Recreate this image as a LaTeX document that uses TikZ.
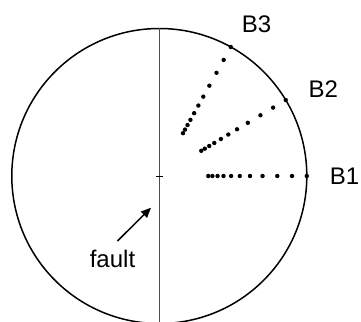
\documentclass[tikz,border=0pt]{standalone}
\usepackage{fontspec}
\setmainfont{Liberation Sans}
\usetikzlibrary{arrows.meta}
\begin{document}
\begin{tikzpicture}[x=1pt,y=-1pt,
  lbl/.style={font=\fontsize{24}{28}\selectfont, inner sep=0pt},
  pole/.style={fill=black, draw=none},
  netline/.style={line width=1.5pt},
  faultline/.style={line width=0.9pt, draw=black!70},
  pointer/.style={line width=1.5pt, -{Triangle[length=10pt,width=8.5pt]}}]
\useasboundingbox (0,0) rectangle (361,321);
\coordinate (O) at (159.3,176);
\begin{scope}
\clip (0,0) rectangle (361,321);
\draw[netline] (O) circle[radius=147.5pt];
\draw[faultline] (159.3,28.5) -- (159.3,330);
\end{scope}
\draw[line width=0.7pt] ([xshift=-3.5pt]O) -- ([xshift=3.5pt]O);
% dotted paths
\foreach \ang in {0,31,61}{
  \foreach \f in {1.0,0.90,0.80,0.70,0.615,0.546,0.487,0.435,0.395,0.36,0.332}{
    \fill[pole] (O) ++(-\ang:\f*147.5) circle[radius=2.2pt];
  }
}
\node[lbl] (B1) at (344.5,176) {B1};
\node[lbl] (B2) at (323.3,89.5) {B2};
\node[lbl] (B3) at (256.5,24) {B3};
\node[lbl, anchor=base] (fault) at (112.5,267.3) {fault};
\coordinate (tail) at (117.5,241);
\coordinate (tip) at (151,207.7);
\draw[pointer] (tail) -- (tip);
\end{tikzpicture}
\end{document}
